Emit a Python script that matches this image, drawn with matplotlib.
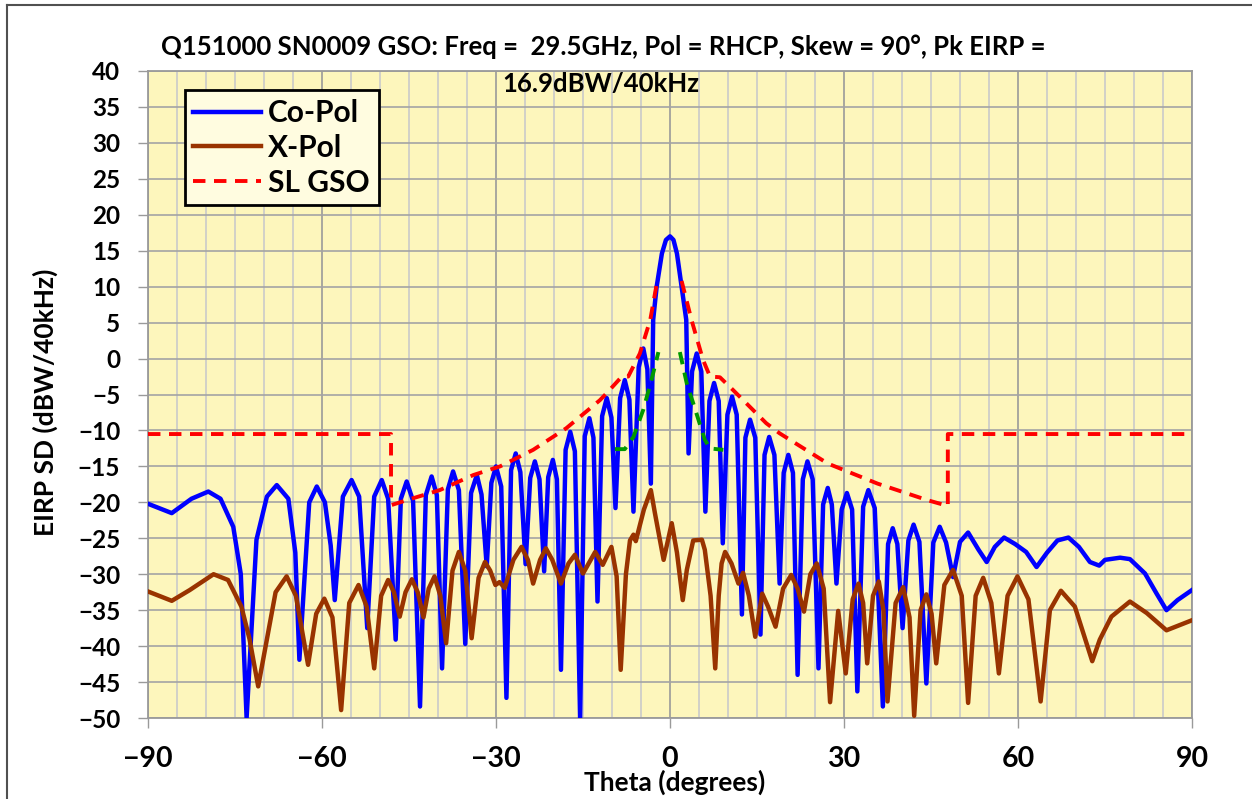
import numpy as np
import matplotlib
matplotlib.use("Agg")
import matplotlib.pyplot as plt
from matplotlib.lines import Line2D
from matplotlib.ticker import MultipleLocator

plt.rcParams['font.family'] = ['Lato', 'DejaVu Sans']
plt.rcParams['font.weight'] = 'bold'

TITLE_1 = "Q151000 SN0009 GSO: Freq =  29.5GHz, Pol = RHCP, Skew = 90\u00b0, Pk EIRP ="
TITLE_2 = "16.9dBW/40kHz"

# Co-Pol pattern (theta deg, dBW/40kHz)
co_theta = [-90, -85.9, -82.5, -79.6, -77.5, -75.3, -74.0, -73.0, -71.3, -69.5, -67.8, -65.8, -64.6,
            -63.9, -62.2, -60.9, -59.5, -58.5, -57.8, -56.4, -54.9, -53.6, -52.2, -51.0, -49.7, -48.6,
            -47.3, -46.4, -45.4, -44.3, -43.1, -42.1, -41.1, -40.2, -39.3, -38.3, -37.4, -36.4, -35.3,
            -34.3, -33.3, -32.5, -31.6, -30.8, -30.0, -29.1, -28.2, -27.4, -26.6, -25.8, -24.9, -24.1,
            -23.3, -22.5, -21.7, -21.0, -20.2, -19.5, -18.8, -18.0, -17.2, -16.4, -15.5, -14.7, -13.9,
            -13.2, -12.5, -11.7, -10.9, -10.1, -9.4, -8.6, -7.8, -7.0, -6.3, -5.4, -4.6, -3.9, -3.3,
            -2.9, -2.3, -1.4, -0.7, 0.0, 0.6, 1.2, 2.0, 2.8, 3.2, 3.8, 4.6, 5.4, 6.1, 6.8, 7.6, 8.4,
            9.1, 9.9, 10.7, 11.5, 12.4, 13.0, 13.8, 14.7, 15.6, 16.3, 17.1, 18.0, 18.9, 19.6, 20.4,
            21.2, 22.0, 22.9, 23.7, 24.6, 25.6, 26.4, 27.2, 27.9, 28.7, 29.6, 30.5, 31.4, 32.3, 33.3,
            34.2, 35.3, 36.7, 37.6, 38.4, 39.2, 40.1, 41.1, 42.0, 43.0, 44.2, 45.4, 46.5, 47.6, 48.8,
            50.0, 51.4, 53.2, 54.6, 56.0, 57.6, 59.5, 61.4, 63.2, 65.0, 66.8, 68.7, 70.5, 72.4, 74.0,
            75.0, 77.6, 79.3, 81.9, 83.9, 85.6, 87.5, 90.0]
co_db = [-20.2, -21.5, -19.5, -18.5, -19.5, -23.4, -30.0, -50.0, -25.2, -19.2, -17.6, -19.5, -27.0,
         -41.9, -20.0, -17.8, -20.0, -26.0, -33.6, -19.2, -16.9, -19.2, -37.5, -19.2, -16.9, -19.5,
         -39.1, -19.5, -17.1, -19.8, -48.4, -19.0, -16.4, -19.0, -43.1, -18.2, -15.7, -18.3, -39.7,
         -18.7, -16.2, -18.9, -28.9, -17.3, -15.0, -17.8, -47.2, -15.5, -13.2, -15.8, -28.6, -16.6,
         -14.3, -16.8, -29.6, -16.5, -14.1, -16.8, -43.3, -12.7, -10.2, -12.9, -50.0, -10.8, -8.3,
         -11.0, -33.8, -8.0, -5.5, -8.2, -20.8, -5.5, -3.0, -5.7, -21.3, -1.2, 1.4, -1.5, -17.4,
         5.4, 10.0, 14.6, 16.5, 17.0, 16.5, 14.6, 10.0, 5.4, -13.2, -1.8, 0.7, -1.8, -21.3, -5.9, -3.4, -5.9,
         -25.7, -7.8, -5.3, -7.8, -35.6, -11.0, -8.5, -11.0, -38.4, -13.4, -10.9, -13.4, -31.3, -15.9, -13.4,
         -15.9, -44.0, -16.8, -14.3, -16.8, -43.1, -20.3, -18.0, -20.3, -31.3, -21.0, -18.7, -21.0, -46.3, -20.6,
         -18.3, -20.8, -48.4, -25.8, -23.6, -25.8, -37.5, -25.3, -23.1, -25.5, -45.2, -25.6, -23.4, -25.6, -30.4,
         -25.5, -24.2, -26.6, -28.3, -26.2, -24.9, -25.8, -26.9, -29.0, -27.0, -25.3, -24.9, -26.2, -28.3, -28.8,
         -28.0, -27.7, -27.9, -29.9, -32.7, -35.0, -33.6, -32.2]

# X-Pol pattern
xp_theta = [-90, -85.9, -82.8, -78.7, -76.2, -73.9, -72.5, -71.0, -68.0, -66.1, -64.5, -62.4, -61.0,
            -59.6, -58.2, -56.7, -55.3, -53.7, -52.3, -51.0, -49.8, -48.6, -47.6, -46.6, -45.6, -44.5,
            -43.5, -42.5, -41.6, -40.6, -39.6, -38.6, -37.5, -36.4, -35.3, -34.2, -33.0, -31.9, -31.0,
            -30.1, -29.4, -28.5, -27.0, -25.6, -24.5, -23.6, -22.4, -21.4, -20.3, -18.8, -17.5, -16.4,
            -15.0, -12.9, -11.6, -10.1, -9.2, -8.5, -7.6, -6.9, -6.3, -5.9, -4.5, -3.3, -2.6, -1.1,
            0.3, 1.2, 2.2, 2.9, 4.0, 5.5, 6.0, 7.0, 7.8, 8.4, 8.9, 9.5, 10.6, 11.8, 12.6, 13.6, 14.7,
            15.9, 16.9, 18.2, 19.5, 20.9, 22.0, 23.1, 24.2, 25.3, 26.5, 27.6, 29.0, 30.3, 31.5, 32.5,
            33.3, 34.0, 35.0, 36.0, 36.8, 37.5, 38.9, 40.2, 41.3, 42.1, 43.2, 44.2, 45.1, 45.9, 47.3,
            48.8, 50.3, 51.4, 52.7, 54.0, 55.4, 56.7, 58.2, 59.9, 61.8, 63.9, 65.5, 67.4, 69.8, 72.8,
            74.1, 76.1, 79.3, 82.2, 85.6, 90.0]
xp_db = [-32.4, -33.7, -32.2, -30.0, -30.8, -34.5, -39.0, -45.6, -32.5, -30.3, -33.0, -42.6, -35.5,
         -33.4, -36.0, -48.9, -34.0, -31.5, -34.5, -43.1, -33.0, -30.8, -32.5, -35.9, -32.5, -30.7,
         -32.5, -36.0, -32.0, -30.3, -33.0, -39.6, -29.5, -26.9, -29.5, -38.9, -30.5, -28.3, -29.5,
         -31.5, -31.1, -31.9, -28.0, -26.2, -28.0, -31.3, -28.0, -26.4, -28.0, -31.3, -28.5, -27.3,
         -29.9, -26.9, -28.7, -26.2, -30.3, -43.3, -30.0, -25.3, -24.5, -25.4, -21.0, -18.3, -21.5, -28.0,
         -22.9, -27.0, -33.6, -29.4, -25.3, -25.2, -26.6, -33.0, -43.1, -33.0, -28.5, -26.9, -28.5, -31.3,
         -29.8, -33.0, -38.7, -32.7, -34.5, -37.3, -32.0, -30.1, -32.0, -35.2, -30.0, -28.5, -32.0, -47.8,
         -35.1, -43.8, -33.5, -31.3, -34.0, -42.4, -33.0, -31.0, -35.0, -47.7, -34.0, -31.8, -36.0, -49.7,
         -35.0, -32.8, -35.5, -42.4, -31.5, -29.4, -33.0, -47.9, -33.0, -30.5, -34.0, -43.8, -33.0, -30.3,
         -33.5, -47.7, -35.0, -32.3, -34.5, -42.1, -39.1, -35.9, -33.8, -35.4, -37.8, -36.4]

# SL GSO mask (gap in the middle where it is hidden under the main beam)
sl_theta = [-90, -48.1, -48.1, -45.4, -39.7, -33.9, -29.3, -23.6, -17.9, -12.1, -10.9, -8.3, -7.2,
            -5.2, -3.4, -2.2, np.nan, 2.0, 3.7, 5.7, 6.9, 8.6, 10.9, 16.6, 18.9, 27.2, 35.8, 44.4,
            47.9, 47.9, 90]
sl_db = [-10.5, -10.5, -20.4, -19.7, -18.3, -16.2, -15.0, -12.7, -9.7, -5.8, -4.8, -2.5, -2.5,
         0.7, 5.4, 10.8, np.nan, 10.8, 5.4, -0.2, -2.5, -2.6, -4.4, -9.0, -10.4, -14.6, -17.4, -19.7,
         -20.5, -10.5, -10.5]

# green dashed curves near the main beam
gr_theta = [-9.5, -7.8, -6.3, -4.6, -3.2, -2.0, np.nan, 1.7, 2.9, 4.0, 6.0, 6.9, 9.2]
gr_db = [-12.6, -12.6, -10.9, -7.1, -3.0, 0.9, np.nan, 0.9, -3.5, -6.2, -11.3, -12.5, -12.7]

W, H = 1252, 799
fig = plt.figure(figsize=(W / 100, H / 100), dpi=100)
ax = fig.add_axes([148 / W, 1 - 718 / H, (1192 - 148) / W, (718 - 71) / H])
ax.set_facecolor('#FDF6BC')

ax.plot(co_theta, co_db, color='#0000FF', lw=3.2, label='Co-Pol', zorder=3)
ax.plot(xp_theta, xp_db, color='#993300', lw=3.2, label='X-Pol', zorder=4)
ax.plot(sl_theta, sl_db, color='#FF0000', lw=2.8, ls=(0, (3.2, 2.2)), label='SL GSO', zorder=5)
ax.plot(gr_theta, gr_db, color='#009900', lw=2.8, ls=(0, (3.2, 2.2)), zorder=5)

ax.set_xlim(-90, 90)
ax.set_ylim(-50, 40)
ax.xaxis.set_major_locator(MultipleLocator(30))
ax.xaxis.set_minor_locator(MultipleLocator(5))
ax.yaxis.set_major_locator(MultipleLocator(5))
ax.grid(which='minor', axis='x', color='#CACACA', lw=1.2, zorder=0)
ax.grid(which='major', axis='x', color='#9A9A9A', lw=1.2, zorder=0)
ax.grid(which='major', axis='y', color='#A4A4A4', lw=1.2, zorder=0)
ax.set_axisbelow(True)
for s in ax.spines.values():
    s.set_color('#9A9A9A')
    s.set_linewidth(1.3)

ax.tick_params(axis='x', which='major', length=7, width=1, color='#9A9A9A', pad=13, labelsize=20.5)
ax.tick_params(axis='x', which='minor', length=0)
ax.tick_params(axis='y', length=7, width=1, color='#9A9A9A', pad=13, labelsize=17.5)
for lab in ax.get_xticklabels() + ax.get_yticklabels():
    lab.set_fontweight('bold')

leg = ax.legend(loc='upper left', bbox_to_anchor=(0.035, 0.97), fontsize=21.5, frameon=True,
                fancybox=False, handlelength=2.25, handletextpad=0.25, labelspacing=0.22,
                borderpad=0.3, borderaxespad=0)
leg.get_frame().set_facecolor('#FFFCE0')
leg.get_frame().set_edgecolor('black')
leg.get_frame().set_linewidth(2)
leg.get_frame().set_alpha(1)
for t in leg.get_texts():
    t.set_fontweight('bold')

fig.text(603 / W, 1 - 47 / H, TITLE_1, ha='center', va='center', fontsize=18.5, fontweight='bold')
fig.text(601 / W, 1 - 84 / H, TITLE_2, ha='center', va='center', fontsize=18.5, fontweight='bold')
fig.text(45 / W, 1 - 402 / H, 'EIRP SD (dBW/40kHz)', rotation=90, ha='center', va='center',
         fontsize=19, fontweight='bold')
fig.text(675 / W, 1 - 782 / H, 'Theta (degrees)', ha='center', va='center', fontsize=19,
         fontweight='bold')

# outer chart border (top and left edges visible)
fig.add_artist(Line2D([7 / W, 1.0], [1 - 5 / H, 1 - 5 / H], transform=fig.transFigure,
                      color='#505050', lw=1.5))
fig.add_artist(Line2D([7 / W, 7 / W], [0, 1 - 5 / H], transform=fig.transFigure,
                      color='#505050', lw=1.5))

fig.savefig('out.png', dpi=100, facecolor='white')
